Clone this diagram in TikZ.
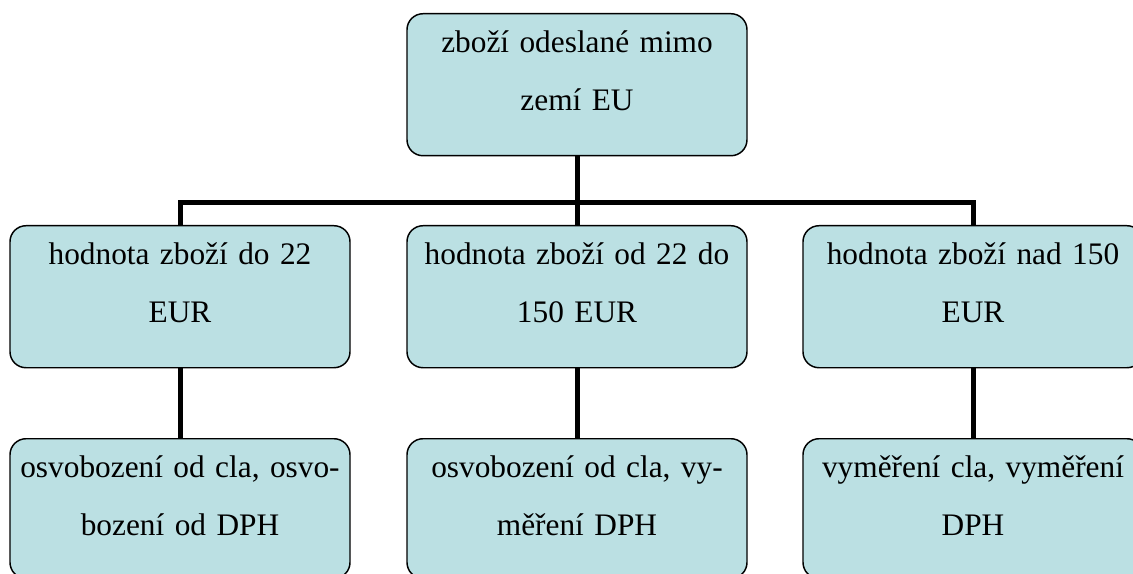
\documentclass[tikz,border=0pt]{standalone}
\usepackage{fontspec}
\setmainfont{Liberation Serif}
\definecolor{boxfill}{RGB}{187,224,227}
\tikzset{every picture/.style={line width=0.75pt}}
\tikzset{
  box/.style={draw=black, line width=1.1pt, fill=boxfill, rounded corners=12pt,
    anchor=north, inner sep=0pt, text width=255pt, align=center,
    text height=29.25pt, text depth=77.25pt,
    font=\fontsize{23.5}{43.5}\selectfont},
  conn/.style={draw=black, line width=3.75pt}
}

\begin{document}
\begin{tikzpicture}[x=0.75pt,y=0.75pt,yscale=-1,xscale=1]
	\useasboundingbox (0,0) rectangle (1133,574);
	\clip (0,0) rectangle (1133,574);

	% Text Node
	\node [box] (top) at (577,13) {zboží odeslané mimo\\zemí EU};
	% Text Node
	\node [box] (low) at (180,225) {hodnota zboží do 22\\EUR};
	% Text Node
	\node [box] (mid) at (577,225) {hodnota zboží od 22 do\\150 EUR};
	% Text Node
	\node [box] (high) at (973,225) {hodnota zboží nad 150\\EUR};
	% Text Node
	\node [box, text depth=75.5pt] (lowres) at (180,438) {osvobození od cla, osvo-\\bození od DPH};
	% Text Node
	\node [box, text depth=75.5pt] (midres) at (577,438) {osvobození od cla, vy-\\měření DPH};
	% Text Node
	\node [box, text depth=75.5pt] (highres) at (973,438) {vyměření cla, vyměření\\DPH};

	\coordinate (fork) at (577,203);

	%Straight Lines
	\draw [conn] (top.south) -- (fork) -- (mid.north);
	%Straight Lines
	\draw [conn] (low.north) -- (low.north |- fork) -- (high.north |- fork) -- (high.north);
	%Straight Lines
	\draw [conn] (low.south) -- (lowres.north);
	%Straight Lines
	\draw [conn] (mid.south) -- (midres.north);
	%Straight Lines
	\draw [conn] (high.south) -- (highres.north);

\end{tikzpicture}
\end{document}
